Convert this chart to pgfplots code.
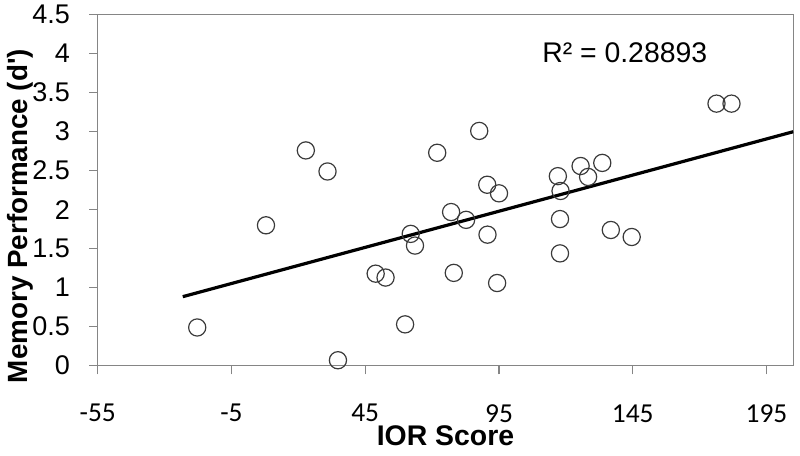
\documentclass[border=0pt]{standalone}
\usepackage{pgfplots}
\pgfplotsset{compat=1.18}
\usepackage{fontspec}
\setmainfont{Liberation Sans}
\newfontfamily\calibri{Carlito}
\usetikzlibrary{calc}

\definecolor{framegray}{HTML}{858585}
\definecolor{markgray}{HTML}{3A3A3A}

\begin{document}
\begin{tikzpicture}
\begin{axis}[
    name=ax,
    scale only axis,
    width=347.8pt, height=175.5pt,
    xmin=-55, xmax=205,
    ymin=0, ymax=4.5,
    xtick={-55,-5,45,95,145,195},
    xticklabels={-55,-5,45,95,145,195},
    ytick={0,0.5,1,1.5,2,2.5,3,3.5,4,4.5},
    yticklabels={0,0.5,1,1.5,2,2.5,3,3.5,4,4.5},
    xtick pos=left, ytick pos=left,
    tick align=outside,
    major tick length=4.3pt,
    every axis/.append style={draw=framegray, line width=0.7pt},
    major tick style={draw=framegray, line width=0.7pt},
    x tick label style={font=\calibri\fontsize{13.7}{14}\selectfont, inner sep=0pt, anchor=north, yshift=-14.7pt},
    y tick label style={font=\fontsize{13.5}{14}\selectfont, inner sep=0pt, anchor=east, xshift=-9.3pt},
    xlabel={IOR Score},
    ylabel={Memory Performance (d\textquotesingle)},
    xlabel style={font=\bfseries\fontsize{14.2}{15}\selectfont, inner sep=0pt, at={(rel axis cs:0.5,0)}, anchor=center, yshift=-35.15pt},
    ylabel style={font=\bfseries\fontsize{13.9}{15}\selectfont, inner sep=0pt, at={(rel axis cs:0,0.4265)}, anchor=center, yshift=38.9pt},
]

% trend line
\addplot[black, line width=1.6pt] coordinates {(-23.2,0.885) (205,3.0)};

% data points
\addplot[only marks, mark=o, mark size=4.3pt, mark options={markgray, line width=0.6pt}] coordinates {
    (-17.8,0.49)
    (7.9,1.80)
    (22.8,2.76)
    (30.9,2.49)
    (34.8,0.07)
    (48.9,1.18)
    (52.6,1.13)
    (59.9,0.53)
    (62.0,1.69)
    (63.6,1.54)
    (71.9,2.73)
    (77.1,1.97)
    (78.1,1.19)
    (82.7,1.87)
    (87.6,3.01)
    (90.6,2.32)
    (90.7,1.68)
    (94.3,1.06)
    (95.0,2.21)
    (117.0,2.43)
    (117.8,1.88)
    (117.8,1.44)
    (118.0,2.24)
    (125.5,2.56)
    (128.3,2.42)
    (133.6,2.60)
    (136.8,1.74)
    (144.6,1.65)
    (176.3,3.36)
    (181.9,3.36)
};

\node[font=\fontsize{14.2}{15}\selectfont, inner sep=0pt] at (axis cs:142,4.015) {R² = 0.28893};
\end{axis}
\pgfresetboundingbox
\path ($(ax.south west)+(-48.85pt,-45.15pt)$) rectangle ($(ax.north east)+(3.35pt,7.35pt)$);
\end{tikzpicture}
\end{document}
